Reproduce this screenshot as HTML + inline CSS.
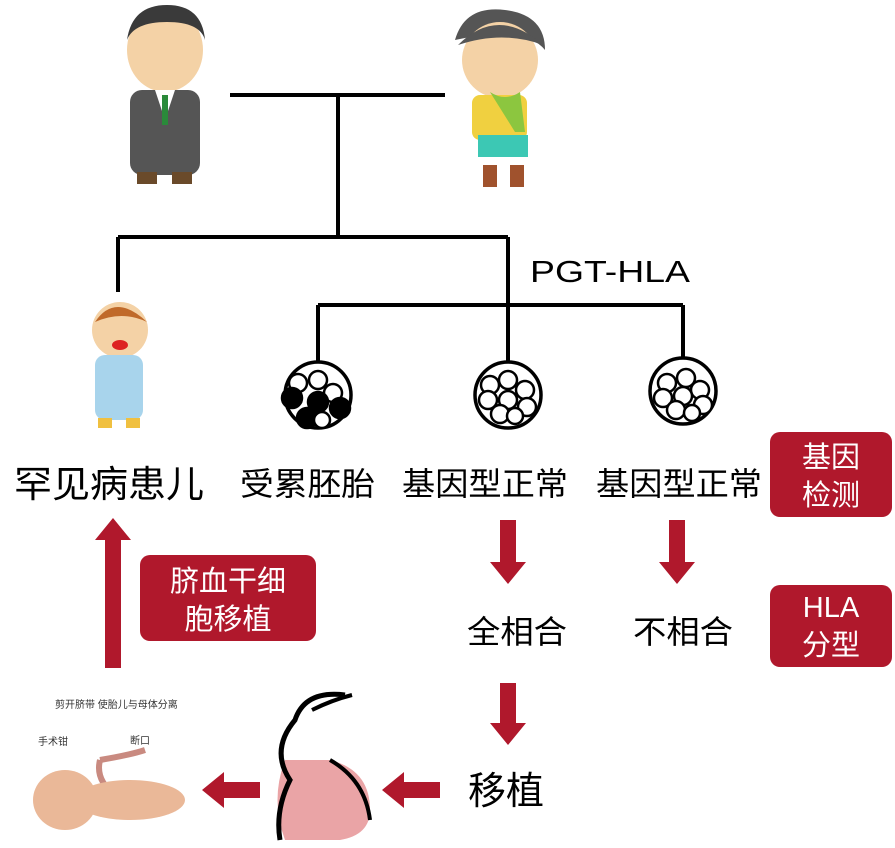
<!DOCTYPE html><html><head><meta charset="utf-8"><style>
body{margin:0;background:#fff;width:895px;height:843px;overflow:hidden}
text{font-family:"Liberation Sans","Noto Sans CJK SC",sans-serif}
</style></head><body>
<svg width="895" height="843" viewBox="0 0 895 843" xmlns="http://www.w3.org/2000/svg">
<g stroke="#000" stroke-width="4" fill="none">
<path d="M230 95H445M338 95V237M118 237H508M118 237V292M508 237V362M318 305H683M318 305V362M683 305V358"/>
</g>
<g stroke="#000" stroke-width="3.5" fill="#fff">
<circle cx="318" cy="395" r="33"/>
<circle cx="508" cy="395" r="33"/>
<circle cx="683" cy="391" r="33"/>
</g>
<g stroke="#000" stroke-width="2.5">
<circle cx="298" cy="383" r="9" fill="#fff"/><circle cx="318" cy="380" r="9" fill="#fff"/><circle cx="333" cy="393" r="9" fill="#fff"/>
<circle cx="292" cy="398" r="10" fill="#000"/><circle cx="318" cy="402" r="10" fill="#000"/><circle cx="340" cy="408" r="10" fill="#000"/><circle cx="307" cy="418" r="10" fill="#000"/><circle cx="322" cy="420" r="8" fill="#fff"/>
<g fill="#fff">
<circle cx="490" cy="385" r="9"/><circle cx="508" cy="380" r="9"/><circle cx="525" cy="390" r="9"/><circle cx="488" cy="400" r="9"/><circle cx="508" cy="400" r="9"/><circle cx="527" cy="407" r="9"/><circle cx="500" cy="414" r="9"/><circle cx="515" cy="416" r="8"/>
<circle cx="667" cy="383" r="9"/><circle cx="686" cy="378" r="9"/><circle cx="700" cy="390" r="9"/><circle cx="663" cy="398" r="9"/><circle cx="683" cy="396" r="9"/><circle cx="703" cy="405" r="9"/><circle cx="676" cy="410" r="9"/><circle cx="692" cy="413" r="8"/>
</g></g>
<text x="530" y="282" font-size="31" textLength="160" lengthAdjust="spacingAndGlyphs">PGT-HLA</text>
<g font-size="32">
<text x="14" y="497" font-size="37" textLength="190" lengthAdjust="spacingAndGlyphs">罕见病患儿</text>
<text x="240" y="495" textLength="135" lengthAdjust="spacingAndGlyphs">受累胚胎</text>
<text x="402" y="495" textLength="166" lengthAdjust="spacingAndGlyphs">基因型正常</text>
<text x="596" y="495" textLength="166" lengthAdjust="spacingAndGlyphs">基因型正常</text>
<text x="467" y="643" font-size="32" textLength="100" lengthAdjust="spacingAndGlyphs">全相合</text>
<text x="633" y="643" font-size="32" textLength="100" lengthAdjust="spacingAndGlyphs">不相合</text>
<text x="468" y="804" font-size="38">移植</text>
</g>
<g fill="#b0182c">
<rect x="770" y="432" width="122" height="85" rx="10"/>
<rect x="770" y="585" width="122" height="82" rx="10"/>
<rect x="140" y="555" width="176" height="86" rx="10"/>
<path d="M500 520h16v42h10l-18 22l-18-22h10z"/>
<path d="M669 520h16v42h10l-18 22l-18-22h10z"/>
<path d="M500 683h16v40h10l-18 22l-18-22h10z"/>
<path d="M105 668h16V540h10l-18-22l-18 22h10z"/>
<path d="M260 782v16H224v10l-22-18l22-18v10z"/>
<path d="M440 782v16H404v10l-22-18l22-18v10z"/>
</g>
<g fill="#fff" font-size="29" text-anchor="middle">
<text x="831" y="467">基因</text><text x="831" y="505">检测</text>
<text x="831" y="617">HLA</text><text x="831" y="655">分型</text>
<text x="228" y="591">脐血干细</text><text x="228" y="629">胞移植</text>
</g>
<g>
<ellipse cx="165" cy="50" rx="38" ry="42" fill="#f4d2a6"/>
<path d="M127 40q5-35 40-35t38 35q-5-18-38-18t-40 18z" fill="#3a3a3a"/>
<rect x="130" y="90" width="70" height="85" rx="12" fill="#555"/>
<path d="M155 90l10 30l10-30z" fill="#fff"/><rect x="162" y="95" width="6" height="30" fill="#2a8a3a"/>
<rect x="137" y="172" width="20" height="12" fill="#6a4a2a"/><rect x="172" y="172" width="20" height="12" fill="#6a4a2a"/>
</g>
<g>
<path d="M455 40q10-35 50-30q40 5 40 40q-20-25-90-10z" fill="#555"/>
<ellipse cx="500" cy="60" rx="38" ry="38" fill="#f4d2a6"/>
<path d="M458 45q40-40 85 0q-40-15-85 0z" fill="#555"/>
<rect x="472" y="95" width="55" height="45" rx="8" fill="#f0d040"/>
<path d="M490 92q15 10 30 0l5 40h-10z" fill="#8cc63f"/>
<rect x="478" y="135" width="50" height="22" fill="#3cc8b4"/>
<rect x="483" y="165" width="14" height="22" fill="#a0522d"/><rect x="510" y="165" width="14" height="22" fill="#a0522d"/>
</g>
<g>
<ellipse cx="120" cy="330" rx="28" ry="28" fill="#f4d2a6"/>
<path d="M95 322q20-30 52 0q-25-12-52 0z" fill="#c06a2a"/>
<rect x="95" y="355" width="48" height="65" rx="10" fill="#a8d4ec"/>
<rect x="98" y="418" width="14" height="10" fill="#f0c040"/><rect x="126" y="418" width="14" height="10" fill="#f0c040"/>
<ellipse cx="120" cy="345" rx="8" ry="5" fill="#d22"/>
</g>
<g>
<text x="55" y="708" font-size="10" fill="#333">剪开脐带 使胎儿与母体分离</text>
<text x="38" y="745" font-size="10" fill="#333">手术钳</text><text x="130" y="744" font-size="10" fill="#333">断口</text>
<path d="M100 760q-5 20 15 35" stroke="#c98a80" stroke-width="6" fill="none"/>
<path d="M100 760q30-5 45-10" stroke="#c98a80" stroke-width="6" fill="none"/>
<ellipse cx="65" cy="800" rx="32" ry="30" fill="#eab898"/>
<ellipse cx="130" cy="800" rx="55" ry="20" fill="#eab898"/>
</g>
<g>
<path d="M330 760q40 10 40 50q0 25-30 30h-55q-15-40 0-80z" fill="#eaa4a6"/>
<path d="M345 695q-40-5-50 25q-25 30-5 60q-15 30-10 60" stroke="#000" stroke-width="5" fill="none"/>
<path d="M312 710q20-10 40-15" stroke="#000" stroke-width="4" fill="none"/>
<path d="M330 760q35 20 40 60" stroke="#000" stroke-width="4" fill="none"/>
</g>
</svg>
</body></html>
